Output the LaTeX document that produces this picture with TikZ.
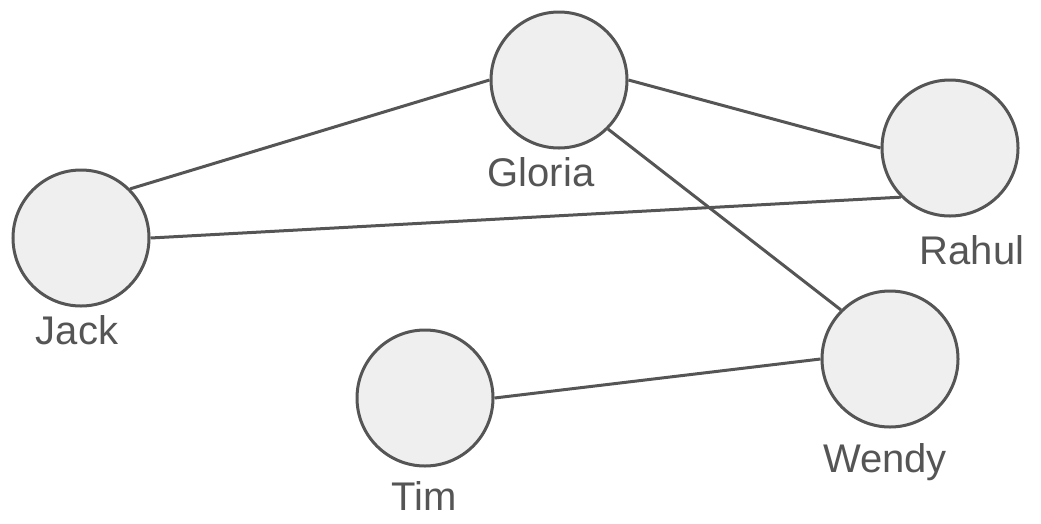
\documentclass[tikz,border=0pt]{standalone}
\usepackage{fontspec}
\setmainfont{Liberation Sans}
\usepackage{tikz}
\definecolor{edgegray}{HTML}{555555}
\definecolor{nodefill}{HTML}{EFEFEF}

\begin{document}
\begin{tikzpicture}[
  x=1pt, y=-1pt,
  person/.style={circle, draw=edgegray, line width=3pt, fill=nodefill, minimum size=136pt, inner sep=0pt},
  caption/.style={anchor=base, text=edgegray, font=\fontsize{40}{44}\selectfont, inner sep=0pt},
  link/.style={draw=edgegray, line width=3pt}
]
\useasboundingbox (0,0) rectangle (1041,523);
% people
\node[person] (gloria) at (559,80) {};
\node[person] (rahul) at (950,148) {};
\node[person] (jack) at (81,238) {};
\node[person] (wendy) at (890,359) {};
\node[person] (tim) at (425,398) {};
% captions
\node[caption] (gloria-lbl) at (541,186) {Gloria};
\node[caption] (rahul-lbl) at (972,264) {Rahul};
\node[caption] (jack-lbl) at (77,344) {Jack};
\node[caption] (wendy-lbl) at (885,472) {Wendy};
\node[caption] (tim-lbl) at (424,510) {Tim};

\draw[link] (jack.north east) -- (gloria.west);
\draw[link] (gloria.east) -- (rahul.west);
\draw[link] (jack.east) -- (rahul.south west);
\draw[link] (gloria.south east) -- (wendy.north west);
\draw[link] (tim.east) -- (wendy.west);
\end{tikzpicture}
\end{document}
